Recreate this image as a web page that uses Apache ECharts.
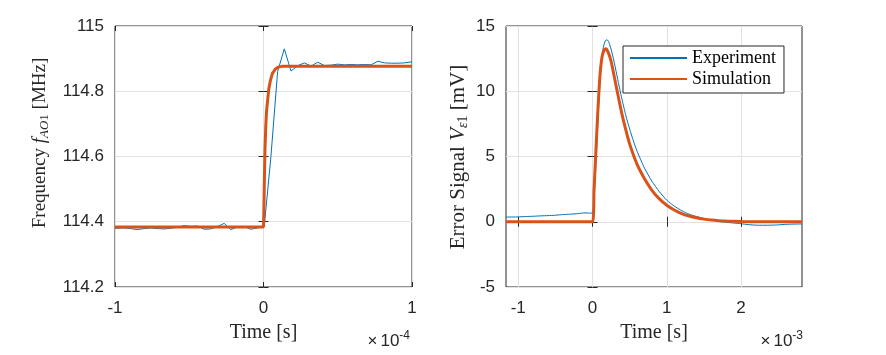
<!DOCTYPE html>
<html>
<head>
<meta charset="utf-8">
<script src="https://cdn.jsdelivr.net/npm/echarts@6/dist/echarts.min.js"></script>
<style>html,body{margin:0;padding:0;background:#fff}#c{width:886px;height:355px}</style>
</head>
<body>
<div id="c"></div>
<script>
// ---------- Left panel: frequency step (time in units of 1e-4 s) ----------
var expTimeL = [-1.0,-0.985,-0.94,-0.895,-0.85,-0.805,-0.76,-0.715,-0.67,-0.625,-0.58,-0.535,-0.49,-0.445,-0.4,-0.355,-0.31,-0.265,-0.22,-0.175,-0.13,-0.085,-0.04,0.005,0.05,0.095,0.14,0.185,0.23,0.275,0.32,0.365,0.41,0.455,0.5,0.545,0.59,0.635,0.68,0.725,0.77,0.815,0.86,0.905,0.95,0.995,1.0];
var expFreq = [114.380,114.380,114.381,114.379,114.376,114.379,114.381,114.379,114.378,114.380,114.383,114.388,114.386,114.387,114.377,114.378,114.385,114.395,114.376,114.384,114.385,114.377,114.381,114.386,114.60,114.86,114.93,114.862,114.878,114.887,114.877,114.889,114.879,114.880,114.883,114.881,114.882,114.881,114.882,114.881,114.892,114.887,114.886,114.886,114.887,114.890,114.890];
var simTimeL = [-1.0,0.0,0.003,0.006,0.01,0.015,0.02,0.027,0.035,0.045,0.06,0.08,0.1,0.13,1.0];
var simFreq = [114.384,114.384,114.45,114.53,114.62,114.69,114.735,114.77,114.805,114.83,114.855,114.868,114.874,114.877,114.877];

// ---------- Right panel: error signal (time in units of 1e-3 s) ----------
var expTimeR = [-1.165,-1.0,-0.9,-0.8,-0.7,-0.6,-0.5,-0.4,-0.3,-0.2,-0.1,-0.05,0.0,0.02,0.05,0.08,0.11,0.14,0.17,0.195,0.22,0.26,0.3,0.35,0.4,0.45,0.5,0.55,0.6,0.7,0.8,0.9,1.0,1.1,1.2,1.3,1.4,1.5,1.6,1.7,1.8,1.9,2.0,2.1,2.2,2.3,2.4,2.5,2.6,2.7,2.82];
var expErr = [0.36,0.37,0.40,0.42,0.45,0.47,0.50,0.55,0.58,0.62,0.68,0.66,0.70,1.8,5.0,8.6,11.6,13.2,13.85,13.95,13.75,13.0,12.0,10.6,9.3,8.1,7.1,6.2,5.4,4.1,3.1,2.3,1.65,1.2,0.85,0.58,0.4,0.25,0.12,0.03,-0.04,-0.1,-0.15,-0.22,-0.26,-0.27,-0.26,-0.24,-0.2,-0.18,-0.17];
var simTimeR = [-1.165,0.0,0.02,0.04,0.07,0.1,0.13,0.16,0.18,0.21,0.25,0.3,0.35,0.4,0.45,0.5,0.6,0.7,0.8,0.9,1.0,1.1,1.2,1.3,1.4,1.5,1.6,1.7,1.8,2.0,2.3,2.82];
var simErr = [0,0,2.4,4.8,8.3,11.2,12.7,13.2,13.26,13.0,12.3,10.9,9.5,8.15,7.0,5.95,4.4,3.3,2.41,1.75,1.26,0.9,0.63,0.44,0.3,0.2,0.13,0.08,0.05,0.02,0.0,0.0];

// ---------- Ticks ----------
var xTicksL = [-1, 0, 1];
var xTickLabelsL = ['-1', '0', '1'];
var yTicksL = [114.2, 114.4, 114.6, 114.8, 115];
var yTickLabelsL = ['114.2', '114.4', '114.6', '114.8', '115'];
var xTicksR = [-1, 0, 1, 2];
var xTickLabelsR = ['-1', '0', '1', '2'];
var yTicksR = [-5, 0, 5, 10, 15];
var yTickLabelsR = ['-5', '0', '5', '10', '15'];

var seriesNames = ['Experiment', 'Simulation'];

function zip(a, b) { return a.map(function (v, i) { return [v, b[i]]; }); }
function labelFor(ticks, labels) {
  return function (v) {
    for (var i = 0; i < ticks.length; i++) if (Math.abs(ticks[i] - v) < 1e-6) return labels[i];
    return '';
  };
}

var AX = '#262626';
var GRIDC = '#e2e2e2';
var SANS = 'Liberation Sans';
var SERIF = 'Liberation Serif';
var BLUE = '#0072BD';
var RED = '#D95319';

function mainX(grid, min, max, ticks, labels) {
  return {
    type: 'value', gridIndex: grid, position: 'bottom', min: min, max: max,
    name: 'Time [s]', nameLocation: 'middle', nameGap: 36,
    nameTextStyle: { fontFamily: SERIF, fontSize: 20, color: AX },
    axisLine: { show: false },
    axisTick: { show: true, inside: true, length: 5, lineStyle: { color: AX }, customValues: ticks },
    axisLabel: { show: true, margin: 13, fontFamily: SANS, fontSize: 17, color: AX, customValues: ticks, formatter: labelFor(ticks, labels) },
    splitLine: { show: true, lineStyle: { color: GRIDC, width: 1 } }
  };
}
function mirrorX(grid, min, max, ticks) {
  return {
    type: 'value', gridIndex: grid, position: 'top', min: min, max: max,
    axisLine: { show: false },
    axisTick: { show: true, inside: true, length: 5, lineStyle: { color: AX }, customValues: ticks },
    axisLabel: { show: false, customValues: ticks },
    splitLine: { show: false }
  };
}
function mainY(grid, min, max, ticks, labels) {
  return {
    type: 'value', gridIndex: grid, position: 'left', min: min, max: max,
    axisLine: { show: false },
    axisTick: { show: true, inside: true, length: 5, lineStyle: { color: AX }, customValues: ticks },
    axisLabel: { show: true, margin: 11, fontFamily: SANS, fontSize: 17, color: AX, customValues: ticks, formatter: labelFor(ticks, labels) },
    splitLine: { show: true, lineStyle: { color: GRIDC, width: 1 } }
  };
}
function mirrorY(grid, min, max, ticks) {
  return {
    type: 'value', gridIndex: grid, position: 'right', min: min, max: max,
    axisLine: { show: false },
    axisTick: { show: true, inside: true, length: 5, lineStyle: { color: AX }, customValues: ticks },
    axisLabel: { show: false, customValues: ticks },
    splitLine: { show: false }
  };
}

var chart = echarts.init(document.getElementById('c'), null, { renderer: 'canvas' });
chart.setOption({
  animation: false,
  backgroundColor: '#fff',
  grid: [
    { left: 115, top: 26, width: 297, height: 261, show: true, borderColor: AX, borderWidth: 1, backgroundColor: '#fff' },
    { left: 506, top: 26, width: 296, height: 261, show: true, borderColor: AX, borderWidth: 1, backgroundColor: '#fff' }
  ],
  xAxis: [
    mainX(0, -1, 1, xTicksL, xTickLabelsL),
    mirrorX(0, -1, 1, xTicksL),
    mainX(1, -1.165, 2.82, xTicksR, xTickLabelsR),
    mirrorX(1, -1.165, 2.82, xTicksR)
  ],
  yAxis: [
    mainY(0, 114.2, 115, yTicksL, yTickLabelsL),
    mirrorY(0, 114.2, 115, yTicksL),
    mainY(1, -5, 15, yTicksR, yTickLabelsR),
    mirrorY(1, -5, 15, yTicksR)
  ],
  legend: {
    data: seriesNames,
    orient: 'vertical',
    left: 623, top: 46,
    padding: [3, 8, 5, 6],
    itemGap: 3,
    itemWidth: 57, itemHeight: 12,
    itemStyle: { opacity: 0 },
    borderColor: AX, borderWidth: 1, backgroundColor: '#fff',
    textStyle: { fontFamily: SERIF, fontSize: 18, color: '#000' },
    selectedMode: false
  },
  series: [
    { name: seriesNames[0], type: 'line', xAxisIndex: 0, yAxisIndex: 0, data: zip(expTimeL, expFreq), symbol: 'none', lineStyle: { color: BLUE, width: 1 }, itemStyle: { color: BLUE }, z: 2 },
    { name: seriesNames[1], type: 'line', xAxisIndex: 0, yAxisIndex: 0, data: zip(simTimeL, simFreq), symbol: 'none', lineStyle: { color: RED, width: 3 }, itemStyle: { color: RED }, z: 3 },
    { name: seriesNames[0], type: 'line', xAxisIndex: 2, yAxisIndex: 2, data: zip(expTimeR, expErr), symbol: 'none', smooth: 0.2, lineStyle: { color: BLUE, width: 1 }, itemStyle: { color: BLUE }, z: 2 },
    { name: seriesNames[1], type: 'line', xAxisIndex: 2, yAxisIndex: 2, data: zip(simTimeR, simErr), symbol: 'none', smooth: 0.2, lineStyle: { color: RED, width: 3 }, itemStyle: { color: RED }, z: 3 }
  ],
  graphic: [
    { type: 'text', x: 40, y: 143, rotation: Math.PI / 2, z: 10,
      style: { text: 'Frequency {i|f}{s|AO}{r|1} [MHz]', fontFamily: SERIF, fontSize: 19, fill: AX, align: 'center', verticalAlign: 'middle',
        rich: { i: { fontFamily: SERIF, fontSize: 19, fontStyle: 'italic', fill: AX },
                s: { fontFamily: SERIF, fontSize: 13, fontStyle: 'italic', fill: AX, padding: [9, 0, 0, 0] },
                r: { fontFamily: SERIF, fontSize: 13, fill: AX, padding: [9, 0, 0, 0] } } } },
    { type: 'text', x: 458, y: 157, rotation: Math.PI / 2, z: 10,
      style: { text: 'Error Signal {i|V}{s|ε}{r|1} [mV]', fontFamily: SERIF, fontSize: 21, fill: AX, align: 'center', verticalAlign: 'middle',
        rich: { i: { fontFamily: SERIF, fontSize: 21, fontStyle: 'italic', fill: AX },
                s: { fontFamily: SERIF, fontSize: 14, fontStyle: 'italic', fill: AX, padding: [10, 0, 0, 0] },
                r: { fontFamily: SERIF, fontSize: 14, fill: AX, padding: [10, 0, 0, 0] } } } },
    { type: 'text', x: 410, y: 341, z: 10,
      style: { text: '{x|×}{n|10}{p|-4}', align: 'right', verticalAlign: 'middle', fill: AX,
        rich: { x: { fontFamily: SANS, fontSize: 17, fill: AX, padding: [0, 3, 0, 0] },
                n: { fontFamily: SANS, fontSize: 17, fill: AX },
                p: { fontFamily: SANS, fontSize: 12, fill: AX, padding: [0, 0, 11, 0] } } } },
    { type: 'text', x: 803, y: 341, z: 10,
      style: { text: '{x|×}{n|10}{p|-3}', align: 'right', verticalAlign: 'middle', fill: AX,
        rich: { x: { fontFamily: SANS, fontSize: 17, fill: AX, padding: [0, 3, 0, 0] },
                n: { fontFamily: SANS, fontSize: 17, fill: AX },
                p: { fontFamily: SANS, fontSize: 12, fill: AX, padding: [0, 0, 11, 0] } } } }
  ]
});
</script>
</body>
</html>
